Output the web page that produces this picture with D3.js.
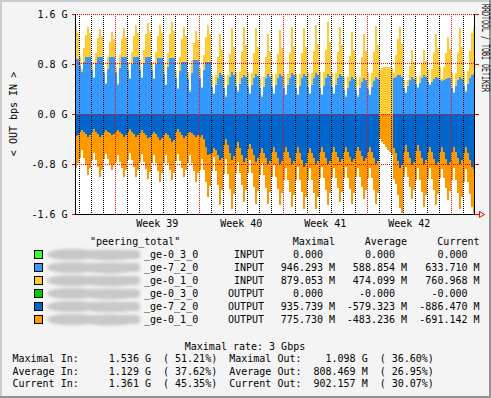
<!DOCTYPE html>
<html><head><meta charset="utf-8">
<script src="https://cdn.jsdelivr.net/npm/d3@7"></script>
<style>
html,body{margin:0;padding:0;background:#f4f4f4;}
svg{display:block;}
text{font-family:"DejaVu Sans Mono",monospace;font-size:10px;fill:#000;}
</style></head><body>
<svg id="chart" width="491" height="398"></svg>
<script>
// ---------- data ----------
const sampleStart = "2007-09-20T16:00:00Z";   // first 4-hour sample
const stepHours = 4;
const viewStart = "2007-09-20T15:24:00Z";
const viewEnd   = "2007-10-23T23:24:00Z";

const yTicks = [-1.6, -0.8, 0, 0.8, 1.6];
const yTickLabels = ["-1.6 G", "-0.8 G", "0.0 G", "0.8 G", "1.6 G"];

// Gbps, one value per 4 hours
const ge72In = [0.88,0.88,
 0.77,0.68,0.84,0.91,0.91,0.91, 0.71,0.57,0.81,0.91,0.91,0.91, 0.65,0.48,0.72,0.91,0.91,0.91,
 0.65,0.47,0.73,0.92,0.92,0.92, 0.70,0.56,0.80,0.92,0.92,0.92, 0.71,0.58,0.81,0.91,0.91,0.91,
 0.70,0.56,0.80,0.90,0.90,0.90, 0.64,0.46,0.76,0.90,0.90,0.90, 0.58,0.40,0.69,0.84,0.84,0.84,
 0.56,0.36,0.65,0.86,0.86,0.86, 0.58,0.42,0.71,0.83,0.83,0.83, 0.44,0.32,0.47,0.58,0.65,0.62,
 0.42,0.28,0.46,0.59,0.67,0.63, 0.45,0.36,0.48,0.57,0.62,0.59, 0.43,0.32,0.46,0.58,0.64,0.61,
 0.41,0.28,0.44,0.57,0.64,0.60, 0.43,0.32,0.46,0.58,0.64,0.61, 0.42,0.30,0.46,0.58,0.65,0.62,
 0.42,0.30,0.45,0.57,0.64,0.61, 0.44,0.32,0.47,0.58,0.65,0.62, 0.42,0.30,0.45,0.57,0.64,0.61,
 0.43,0.32,0.46,0.58,0.64,0.61, 0.39,0.28,0.42,0.53,0.59,0.56, 0.38,0.28,0.41,0.51,0.57,0.54,
 0.40,0.30,0.43,0.53,0.59,0.56, 0,0,0,0,0,0, 0,0.58,0.60,0.62,0.62,0.60,
 0.42,0.33,0.45,0.54,0.59,0.56, 0.48,0.41,0.50,0.58,0.62,0.60, 0.51,0.46,0.52,0.56,0.59,0.58,
 0.54,0.53,0.55,0.56,0.57,0.57, 0.42,0.33,0.45,0.54,0.59,0.56, 0.45,0.36,0.48,0.58,0.62,0.634];

const ge01In = [0.54,0.42,
 0.15,0.04,0.22,0.35,0.49,0.39, 0.12,0.03,0.17,0.30,0.45,0.34, 0.10,0.02,0.19,0.25,0.41,0.29,
 0.11,0.03,0.21,0.28,0.45,0.32, 0.13,0.02,0.20,0.33,0.50,0.37, 0.15,0.02,0.22,0.37,0.54,0.41,
 0.13,0.02,0.20,0.35,0.52,0.39, 0.14,0.02,0.22,0.38,0.58,0.43, 0.13,0.02,0.22,0.36,0.56,0.41,
 0.11,0.02,0.21,0.28,0.47,0.33, 0.16,0.02,0.23,0.40,0.60,0.45, 0.18,0.02,0.15,0.34,0.63,0.40,
 0.20,0.02,0.16,0.37,0.70,0.44, 0.23,0.02,0.20,0.44,0.77,0.52, 0.22,0.02,0.19,0.40,0.73,0.47,
 0.18,0.02,0.15,0.34,0.64,0.41, 0.21,0.02,0.18,0.38,0.70,0.45, 0.22,0.02,0.18,0.40,0.74,0.47,
 0.22,0.02,0.19,0.40,0.73,0.47, 0.22,0.02,0.19,0.43,0.77,0.50, 0.25,0.02,0.22,0.46,0.83,0.54,
 0.23,0.02,0.20,0.41,0.75,0.49, 0.21,0.02,0.18,0.40,0.72,0.47, 0.21,0.02,0.18,0.40,0.71,0.47,
 0.25,0.02,0.22,0.47,0.82,0.54, 0.70,0.73,0.75,0.76,0.76,0.75, 0.74,0.08,0.35,0.58,0.77,0.52,
 0.13,0.02,0.10,0.23,0.44,0.28, 0.13,0.02,0.11,0.22,0.40,0.25, 0.21,0.02,0.20,0.42,0.69,0.48,
 0.22,0.03,0.21,0.42,0.66,0.47, 0.24,0.02,0.21,0.44,0.78,0.52, 0.24,0.02,0.21,0.43,0.68,0.761];

const ge72Out = [0.35,0.33,
 0.28,0.25,0.28,0.32,0.36,0.34, 0.28,0.24,0.28,0.32,0.36,0.34, 0.28,0.26,0.28,0.31,0.34,0.32,
 0.28,0.25,0.28,0.32,0.36,0.34, 0.28,0.24,0.28,0.32,0.37,0.34, 0.30,0.26,0.30,0.34,0.38,0.36,
 0.32,0.28,0.32,0.37,0.42,0.39, 0.34,0.30,0.34,0.39,0.44,0.41, 0.28,0.24,0.28,0.33,0.38,0.35,
 0.30,0.28,0.30,0.33,0.36,0.34, 0.36,0.34,0.40,0.52,0.66,0.64, 0.62,0.55,0.58,0.66,0.74,0.70,
 0.50,0.40,0.50,0.62,0.74,0.67, 0.54,0.45,0.54,0.65,0.76,0.70, 0.56,0.48,0.56,0.66,0.76,0.70,
 0.62,0.54,0.62,0.71,0.80,0.75, 0.61,0.53,0.61,0.71,0.80,0.75, 0.61,0.53,0.61,0.71,0.80,0.75,
 0.63,0.53,0.63,0.74,0.85,0.79, 0.62,0.54,0.62,0.71,0.80,0.75, 0.61,0.53,0.61,0.71,0.80,0.75,
 0.60,0.52,0.60,0.68,0.77,0.72, 0.60,0.52,0.60,0.68,0.77,0.72, 0.59,0.52,0.59,0.67,0.75,0.70,
 0.61,0.53,0.61,0.71,0.80,0.75, 0,0,0,0,0,0, 0,0.55,0.62,0.75,0.87,0.82,
 0.60,0.50,0.60,0.71,0.82,0.76, 0.59,0.50,0.59,0.70,0.80,0.74, 0.61,0.52,0.61,0.72,0.82,0.76,
 0.61,0.52,0.61,0.72,0.82,0.76, 0.60,0.52,0.60,0.70,0.80,0.74, 0.62,0.52,0.62,0.74,0.84,0.886];

const ge01Out = [0.51,0.45,
 0.42,0.33,0.42,0.50,0.62,0.52, 0.45,0.38,0.45,0.53,0.64,0.55, 0.44,0.38,0.44,0.49,0.56,0.50,
 0.48,0.41,0.48,0.54,0.64,0.56, 0.45,0.38,0.45,0.53,0.63,0.55, 0.46,0.38,0.46,0.54,0.66,0.56,
 0.47,0.38,0.47,0.54,0.66,0.56, 0.44,0.36,0.44,0.51,0.62,0.53, 0.47,0.40,0.47,0.53,0.62,0.54,
 0.49,0.38,0.49,0.58,0.72,0.61, 0.54,0.38,0.50,0.57,0.67,0.51, 0.29,0.13,0.33,0.48,0.71,0.52,
 0.46,0.32,0.46,0.58,0.78,0.61, 0.41,0.31,0.41,0.49,0.64,0.51, 0.39,0.26,0.39,0.50,0.68,0.53,
 0.36,0.24,0.36,0.47,0.64,0.49, 0.40,0.29,0.40,0.49,0.66,0.52, 0.44,0.33,0.44,0.53,0.69,0.55,
 0.42,0.32,0.42,0.51,0.67,0.53, 0.44,0.32,0.44,0.55,0.72,0.57, 0.42,0.31,0.42,0.50,0.66,0.52,
 0.43,0.34,0.43,0.51,0.64,0.53, 0.43,0.33,0.43,0.52,0.67,0.54, 0.42,0.34,0.42,0.49,0.61,0.51,
 0.42,0.33,0.42,0.50,0.64,0.52, 0.40,0.44,0.48,0.53,0.57,0.61, 0.65,0.49,0.50,0.55,0.63,0.76,
 0.40,0.35,0.40,0.45,0.54,0.45, 0.46,0.36,0.46,0.54,0.69,0.56, 0.43,0.34,0.43,0.50,0.64,0.52,
 0.42,0.36,0.42,0.46,0.56,0.47, 0.46,0.34,0.46,0.56,0.72,0.58, 0.46,0.36,0.46,0.54,0.64,0.691];

const ge03In = new Array(ge72In.length).fill(0);
const ge03Out = new Array(ge72In.length).fill(0);

const seriesKeys   = ["in03", "in72", "in01", "out03", "out72", "out01"];
const seriesColors = ["#33ff33", "#3399ff", "#ffcc33", "#00cc00", "#0066cc", "#ff9900"];

const legendTitle = '"peering_total"';
const legendHeads = ["Maximal", "Average", "Current"];
const legendNames = ["_ge-0_3_0", "_ge-7_2_0", "_ge-0_1_0", "_ge-0_3_0", "_ge-7_2_0", "_ge-0_1_0"];
const legendDir   = ["INPUT", "INPUT", "INPUT", "OUTPUT", "OUTPUT", "OUTPUT"];
const legendMax   = ["0.000", "946.293 M", "879.053 M", "0.000", "935.739 M", "775.730 M"];
const legendAvg   = ["0.000", "588.854 M", "474.099 M", "-0.000", "-579.323 M", "-483.236 M"];
const legendCur   = ["0.000", "633.710 M", "760.968 M", "-0.000", "-886.470 M", "-691.142 M"];

const rateTitle = "Maximal rate: 3 Gbps";
const statLabels = ["Maximal", "Average", "Current"];
const statInVal  = ["1.536 G", "1.129 G", "1.361 G"];
const statInPct  = ["51.21", "37.62", "45.35"];
const statOutVal = ["1.098 G", "808.469 M", "902.157 M"];
const statOutPct = ["36.60", "26.95", "30.07"];

const yTitle = "< OUT bps IN >";
const sideText = "RRDTOOL / TOBI OETIKER";

// ---------- drawing ----------
const svg = d3.select("#chart");
const W = 491, H = 398;
const P = {l: 75, r: 475, t: 14, b: 214};

// frame
svg.append("rect").attr("width", W).attr("height", H).attr("fill", "#f4f4f4");
svg.append("rect").attr("x", 0).attr("y", 0).attr("width", W).attr("height", 2).attr("fill", "#cbcbcb");
svg.append("rect").attr("x", 0).attr("y", 0).attr("width", 2).attr("height", H).attr("fill", "#cbcbcb");
svg.append("rect").attr("x", W - 2).attr("y", 0).attr("width", 2).attr("height", H).attr("fill", "#929292");
svg.append("rect").attr("x", 0).attr("y", H - 2).attr("width", W).attr("height", 2).attr("fill", "#929292");

const x = d3.scaleUtc().domain([new Date(viewStart), new Date(viewEnd)]).range([P.l, P.r]);
const y = d3.scaleLinear().domain([-1.6, 1.6]).range([P.b, P.t]);

svg.append("rect").attr("x", P.l).attr("y", P.t).attr("width", P.r - P.l).attr("height", P.b - P.t).attr("fill", "#fff");

const t0 = +new Date(sampleStart), step = stepHours * 3600e3;
const rows = ge72In.map((v, i) => ({
  t: new Date(t0 + i * step),
  in03: ge03In[i], in72: v, in01: ge01In[i],
  out03: -ge03Out[i], out72: -ge72Out[i], out01: -ge01Out[i]
}));
const last = rows[rows.length - 1];
rows.push(Object.assign({}, last, {t: new Date(t0 + rows.length * step)}));

const stacked = d3.stack().keys(seriesKeys).offset(d3.stackOffsetDiverging)(rows);

svg.append("clipPath").attr("id", "clip").append("rect")
  .attr("x", P.l).attr("y", P.t).attr("width", P.r - P.l).attr("height", P.b - P.t);

const area = d3.area().curve(d3.curveStepAfter)
  .x(d => x(d.data.t)).y0(d => y(d[0])).y1(d => y(d[1]));

svg.append("g").attr("clip-path", "url(#clip)").selectAll("path").data(stacked).join("path")
  .attr("d", area).attr("fill", (d, i) => seriesColors[i]).attr("shape-rendering", "crispEdges");

// grid
const grid = svg.append("g").attr("shape-rendering", "crispEdges");
const days = d3.utcDay.range(x.domain()[0], x.domain()[1]);
days.forEach(d => {
  const px = Math.floor(x(d)) + 0.5;
  const isMon = d.getUTCDay() === 1;
  grid.append("line").attr("x1", px).attr("x2", px).attr("y1", P.t).attr("y2", P.b)
    .attr("stroke", isMon ? "#ff0000" : "#000").attr("stroke-dasharray", "1,1");
});
// bottom axis line
svg.append("line").attr("x1", P.l).attr("x2", P.r + 4).attr("y1", P.b + 0.5).attr("y2", P.b + 0.5)
  .attr("stroke", "#000").attr("shape-rendering", "crispEdges");
yTicks.forEach(v => {
  const py = Math.floor(y(v)) + 0.5;
  grid.append("line").attr("x1", P.l).attr("x2", P.r).attr("y1", py).attr("y2", py)
    .attr("stroke", "#ff0000").attr("stroke-dasharray", "1,1");
});

// left axis
const yAxis = d3.axisLeft(y).tickValues(yTicks).tickFormat((d, i) => yTickLabels[i]).tickSize(3).tickPadding(4.5);
const ga = svg.append("g").attr("transform", `translate(${P.l},0)`).call(yAxis);
ga.select(".domain").remove();
ga.selectAll(".tick line").attr("stroke", "#ff0000").attr("shape-rendering", "crispEdges");
ga.selectAll(".tick text").attr("font-family", "DejaVu Sans Mono").attr("font-size", 10).attr("fill", "#000");
svg.append("line").attr("x1", P.l + 0.5).attr("x2", P.l + 0.5).attr("y1", P.t).attr("y2", P.b + 1)
  .attr("stroke", "#000").attr("shape-rendering", "crispEdges");

// right ticks and end line
const yAxisR = d3.axisRight(y).tickValues(yTicks).tickFormat("").tickSize(4);
const gr = svg.append("g").attr("transform", `translate(${P.r},0)`).call(yAxisR);
gr.select(".domain").remove();
gr.selectAll(".tick line").attr("stroke", "#ff0000").attr("shape-rendering", "crispEdges");
svg.append("line").attr("x1", P.r - 0.5).attr("x2", P.r - 0.5).attr("y1", P.t).attr("y2", P.b)
  .attr("stroke", "#000").attr("shape-rendering", "crispEdges");
// arrow
svg.append("path").attr("d", `M${P.r + 4.5},${P.b - 2.5}L${P.r + 9.5},${P.b + 0.5}L${P.r + 4.5},${P.b + 3.5}Z`)
  .attr("fill", "none").attr("stroke", "#ff0000");

// week labels
const fmtWeek = d3.utcFormat("%V");
d3.utcMonday.range(d3.utcDay.offset(x.domain()[0], -7), x.domain()[1]).forEach(m => {
  const mid = new Date(+m + 3.5 * 864e5);
  if (x(mid) > P.l + 20 && x(mid) < P.r - 20) {
    svg.append("text").attr("x", x(mid)).attr("y", 226.5).attr("text-anchor", "middle").text("Week " + fmtWeek(m));
  }
});

// y title
svg.append("text").attr("transform", "translate(16.5,114) rotate(-90)").attr("text-anchor", "middle").text(yTitle);
// side text
svg.append("text").attr("transform", "translate(482,4) rotate(90)").attr("font-size", 7.5)
  .attr("textLength", 88).attr("lengthAdjust", "spacingAndGlyphs").attr("fill", "#222").text(sideText);

// legend
const blur = svg.append("defs").append("filter").attr("id", "blur").attr("x", "-20%").attr("y", "-50%").attr("width", "140%").attr("height", "200%");
blur.append("feGaussianBlur").attr("stdDeviation", 1.6);

svg.append("text").attr("x", 90).attr("y", 244.5).text(legendTitle);
const colEnds = [335, 407, 479.5];
legendHeads.forEach((h, i) => svg.append("text").attr("x", colEnds[i]).attr("y", 244.5).attr("text-anchor", "end").text(h));

legendNames.forEach((nm, i) => {
  const base = 258.3 + 13 * i;
  const cy = base - 3.8;
  svg.append("rect").attr("x", 34.5).attr("y", cy - 4).attr("width", 8).attr("height", 8)
    .attr("fill", seriesColors[i]).attr("stroke", "#000").attr("shape-rendering", "crispEdges");
  const g = svg.append("g").attr("filter", "url(#blur)").attr("fill", "#c8c8c8");
  g.append("ellipse").attr("cx", 72).attr("cy", cy).attr("rx", 25).attr("ry", 5.6);
  g.append("ellipse").attr("cx", 110).attr("cy", cy + 0.5).attr("rx", 30).attr("ry", 5.4);
  g.append("rect").attr("x", 52).attr("y", cy - 4.5).attr("width", 88).attr("height", 9).attr("rx", 4);
  svg.append("text").attr("x", 144).attr("y", base).text(nm);
  svg.append("text").attr("x", 264).attr("y", base).attr("text-anchor", "end").text(legendDir[i]);
  [legendMax[i], legendAvg[i], legendCur[i]].forEach((s, c) => {
    const parts = s.split(" ");
    svg.append("text").attr("x", colEnds[c] - 12).attr("y", base).attr("text-anchor", "end").text(parts[0]);
    if (parts[1]) svg.append("text").attr("x", colEnds[c]).attr("y", base).attr("text-anchor", "end").text(parts[1]);
  });
});

// stats
svg.append("text").attr("x", 245).attr("y", 349.5).attr("text-anchor", "middle").text(rateTitle);
const cw = 6.02, sx0 = 12.5;
function monoLine(str, yy) {
  const re = /\S+/g; let m;
  while ((m = re.exec(str)) !== null) {
    svg.append("text").attr("x", sx0 + m.index * cw).attr("y", yy).text(m[0]);
  }
}
statLabels.forEach((lab, i) => {
  const line = (lab + " In:").padEnd(14) + statInVal[i].padStart(9) + "  (" + statInPct[i].padStart(6) + "%)  "
    + (lab + " Out:").padEnd(12) + "  " + statOutVal[i].padStart(9) + "  (" + statOutPct[i].padStart(6) + "%)";
  monoLine(line, 362.3 + 12.3 * i);
});
</script>
</body></html>
